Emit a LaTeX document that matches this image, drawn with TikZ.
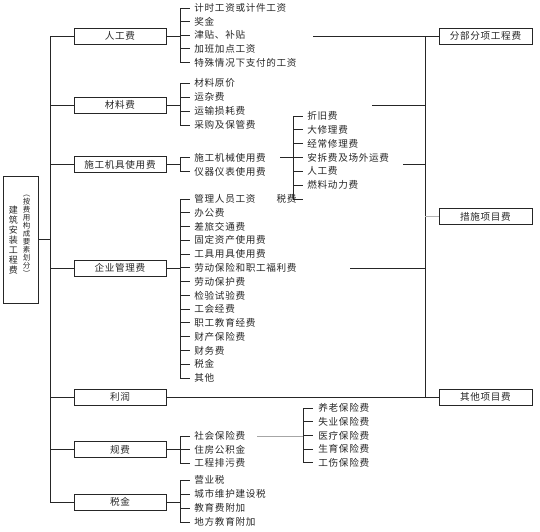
\documentclass[tikz,border=0pt]{standalone}
\usepackage{fontspec}
\newfontfamily\cjk[LetterSpace=7]{Noto Sans CJK SC}
\begin{document}
\begin{tikzpicture}[x=1pt,y=-1pt,font=\cjk\fontsize{9.6}{11}\selectfont,line width=.9pt,color=black!85,
  kbox/.style={draw,line width=1pt,minimum width=92pt,minimum height=16pt,inner sep=0pt},
  item/.style={anchor=west,inner sep=0pt}]
\useasboundingbox (0,0) rectangle (540,531);
% root box with vertical title
\node[kbox,minimum width=35pt,minimum height=127pt] (root) at (20.5,239.5) {};
\node[inner sep=0pt,align=center,font=\cjk\fontsize{9}{10}\selectfont] (rt1) at (13.5,240) {建\\筑\\安\\装\\工\\程\\费};
\node[inner sep=0pt,align=center,font=\cjk\fontsize{7.5}{8}\selectfont] (rt2) at (26.5,236) {︵\\按\\费\\用\\构\\成\\要\\素\\划\\分\\︶};
% first level
\foreach \n/\y/\t in {rg/36/人工费,cl/105/材料费,jj/164.5/施工机具使用费,gl/268/企业管理费,lr/397/利润,gf/449.5/规费,sj/502/税金}{\node[kbox] (\n) at (120,\y){\t};}
\coordinate (tr) at (50,0);\coordinate (bk) at (180,0);\coordinate (tk) at (190,0);
\draw (root.east) -- (root.east -| tr);
\draw (rg.west -| tr) -- (sj.west -| tr);
\foreach \n in {rg,cl,jj,gl,lr,gf,sj}{\draw (\n.west -| tr) -- (\n.west);}
% second level
\foreach \t [count=\i] in {计时工资或计件工资,奖金,津贴、补贴,加班加点工资,特殊情况下支付的工资}{\node[item] (rg\i) at (194,{8+13.6*(\i-1)}){\t};\draw (rg\i.west -| bk) -- (rg\i.west -| tk);}
\draw (rg1.west -| bk) -- (rg5.west -| bk);\draw (rg.east) -- (rg.east -| bk);
\foreach \t [count=\i] in {材料原价,运杂费,运输损耗费,采购及保管费}{\node[item] (cl\i) at (194,{83+14*(\i-1)}){\t};\draw (cl\i.west -| bk) -- (cl\i.west -| tk);}
\draw (cl1.west -| bk) -- (cl4.west -| bk);\draw (cl.east) -- (cl.east -| bk);
\foreach \t [count=\i] in {施工机械使用费,仪器仪表使用费}{\node[item] (jj\i) at (194,{157.5+14*(\i-1)}){\t};\draw (jj\i.west -| bk) -- (jj\i.west -| tk);}
\draw (jj1.west -| bk) -- (jj2.west -| bk);\draw (jj.east) -- (jj.east -| bk);
\foreach \t [count=\i] in {管理人员工资,办公费,差旅交通费,固定资产使用费,工具用具使用费,劳动保险和职工福利费,劳动保护费,检验试验费,工会经费,职工教育经费,财产保险费,财务费,税金,其他}{\node[item] (gl\i) at (194,{199+13.77*(\i-1)}){\t};\draw (gl\i.west -| bk) -- (gl\i.west -| tk);}
\draw (gl1.west -| bk) -- (gl14.west -| bk);\draw (gl.east) -- (gl.east -| bk);
\foreach \t [count=\i] in {社会保险费,住房公积金,工程排污费}{\node[item] (gf\i) at (194,{436+13.5*(\i-1)}){\t};\draw (gf\i.west -| bk) -- (gf\i.west -| tk);}
\draw (gf1.west -| bk) -- (gf3.west -| bk);\draw (gf.east) -- (gf.east -| bk);
\foreach \t [count=\i] in {营业税,城市维护建设税,教育费附加,地方教育附加}{\node[item] (sj\i) at (194,{480+14*(\i-1)}){\t};\draw (sj\i.west -| bk) -- (sj\i.west -| tk);}
\draw (sj1.west -| bk) -- (sj4.west -| bk);\draw (sj.east) -- (sj.east -| bk);
% third level
\coordinate (jx0) at (280,0);\coordinate (jbk) at (293,0);\coordinate (jtk) at (303,0);
\foreach \t [count=\i] in {折旧费,大修理费,经常修理费,安拆费及场外运费,人工费,燃料动力费}{\node[item] (jx\i) at (307,{116+13.8*(\i-1)}){\t};\draw (jx\i.west -| jbk) -- (jx\i.west -| jtk);}
\node[anchor=east,inner sep=0pt] (jx7) at (297,199){税费};
\draw (jx7.east -| jbk) -- (jx7.east -| jtk);
\draw (jx1.west -| jbk) -- (jx7.east -| jbk);\draw (jx4.west -| jx0) -- (jx4.west -| jbk);
\coordinate (sb0) at (257,0);\coordinate (sbk) at (303,0);\coordinate (stk) at (313,0);
\foreach \t [count=\i] in {养老保险费,失业保险费,医疗保险费,生育保险费,工伤保险费}{\node[item] (sb\i) at (318,{408+13.7*(\i-1)}){\t};\draw (sb\i.west -| sbk) -- (sb\i.west -| stk);}
\draw (sb1.west -| sbk) -- (sb5.west -| sbk);\draw[gray!70] (gf1.west -| sb0) -- (gf1.west -| sbk);
% right side
\foreach \n/\y/\t in {fb/36/分部分项工程费,cs/216.5/措施项目费,qt/397/其他项目费}{\node[kbox,minimum width=93pt] (\n) at (485.5,\y){\t};}
\coordinate (rt) at (425,0);
\draw (fb.west -| rt) -- (qt.west -| rt);
\coordinate (h1) at (313,36);\draw (h1) -- (fb.west);
\coordinate (h2) at (372,105.5);\draw (h2) -- (h2 -| rt);
\coordinate (h3) at (403,164.5);\draw (h3) -- (h3 -| rt);
\coordinate (h4) at (350,268);\draw (h4) -- (h4 -| rt);
\draw[gray!60] (cs.west -| rt) -- (cs.west);
\draw (lr.east) -- (qt.west);
\end{tikzpicture}
\end{document}
